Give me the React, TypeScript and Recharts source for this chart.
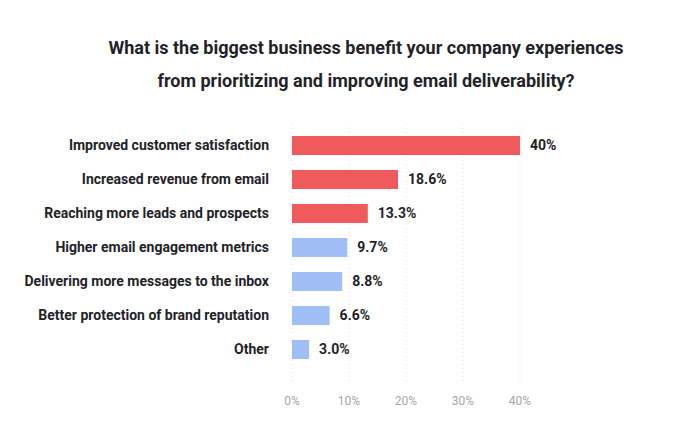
import { Bar, BarChart, CartesianGrid, Cell, LabelList, XAxis, YAxis } from "recharts";

const categories = [
  "Improved customer satisfaction",
  "Increased revenue from email",
  "Reaching more leads and prospects",
  "Higher email engagement metrics",
  "Delivering more messages to the inbox",
  "Better protection of brand reputation",
  "Other",
];
const shares = [40, 18.6, 13.3, 9.7, 8.8, 6.6, 3.0];
const shareLabels = ["40%", "18.6%", "13.3%", "9.7%", "8.8%", "6.6%", "3.0%"];
const highlighted = [true, true, true, false, false, false, false];
const xTicks = [0, 10, 20, 30, 40];

const RED = "#F05A5C";
const BLUE = "#9FBEF6";
const FONT = "Roboto, 'Noto Sans', sans-serif";

const data = categories.map((name, i) => ({
  name,
  value: shares[i],
  label: shareLabels[i],
}));

const titleStyle = {
  position: "absolute" as const,
  left: 0,
  width: 732,
  textAlign: "center" as const,
  fontSize: 18,
  fontWeight: 700,
  color: "#1f2328",
};

export default function App() {
  return (
    <div
      style={{
        position: "absolute",
        left: 0,
        top: 0,
        width: 687,
        height: 432,
        background: "#fff",
        fontFamily: FONT,
      }}
    >
      <div style={{ ...titleStyle, top: 37 }}>
        What is the biggest business benefit your company experiences
      </div>
      <div style={{ ...titleStyle, top: 70 }}>
        from prioritizing and improving email deliverability?
      </div>
      <BarChart
        width={687}
        height={432}
        data={data}
        layout="vertical"
        barSize={19}
        margin={{ top: 124, right: 167, left: 0, bottom: 20 }}
        style={{ position: "absolute", left: 0, top: 0 }}
      >
        <CartesianGrid
          horizontal={false}
          stroke="#e2e2e2"
          strokeDasharray="1 3"
        />
        <XAxis
          type="number"
          domain={[0, 40]}
          ticks={xTicks}
          tickFormatter={(v) => `${v}%`}
          axisLine={false}
          tickLine={false}
          tickMargin={8}
          tick={{ fill: "#a5a5a5", fontSize: 12, fontFamily: FONT }}
        />
        <YAxis
          type="category"
          dataKey="name"
          width={292}
          axisLine={false}
          tickLine={false}
          tickMargin={17}
          padding={{ top: 4, bottom: 16 }}
          tick={{ fill: "#1f2328", fontSize: 14, fontWeight: 700, fontFamily: FONT }}
        />
        <Bar dataKey="value" isAnimationActive={false}>
          {data.map((d, i) => (
            <Cell key={d.name} fill={highlighted[i] ? RED : BLUE} />
          ))}
          <LabelList
            dataKey="label"
            position="right"
            offset={10}
            fill="#1f2328"
            fontSize={14}
            fontWeight={700}
            fontFamily={FONT}
          />
        </Bar>
      </BarChart>
    </div>
  );
}
